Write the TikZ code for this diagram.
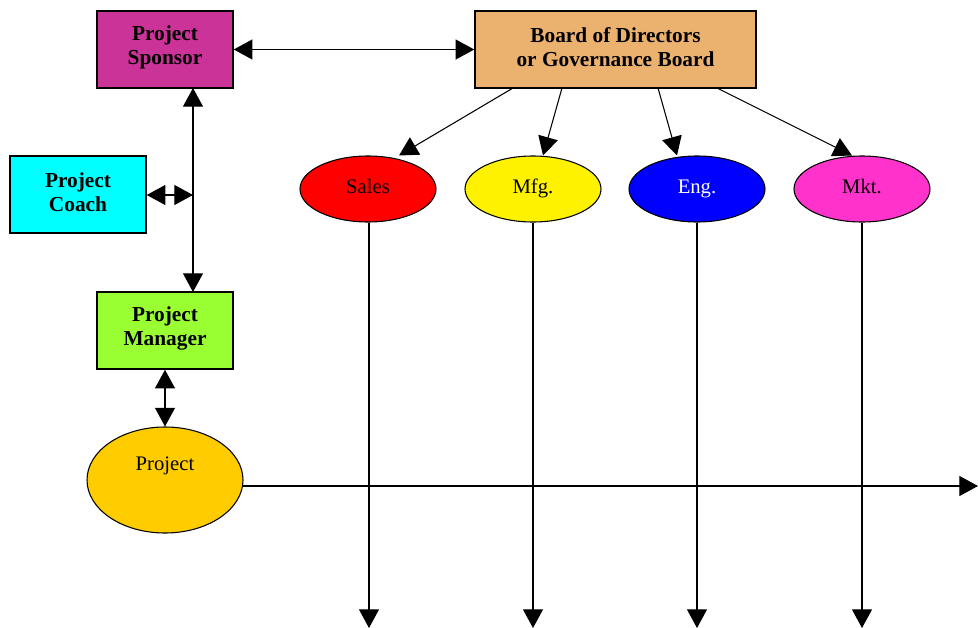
\documentclass[tikz,border=0pt]{standalone}
\usepackage{fontspec}
\setmainfont{Liberation Serif}
\usetikzlibrary{arrows.meta,shapes.geometric}
\definecolor{sponsorc}{HTML}{CC3399}
\definecolor{boardc}{HTML}{EBB16F}
\definecolor{coachc}{HTML}{00FFFF}
\definecolor{managerc}{HTML}{99FF33}
\definecolor{projc}{HTML}{FFCC00}
\definecolor{mktc}{HTML}{FF33CC}
\begin{document}
\begin{tikzpicture}[x=0.75pt,y=-0.75pt,
  box/.style={draw=black,line width=1.1pt,minimum width=102pt,minimum height=57.75pt,inner sep=0pt,font=\fontsize{16}{18}\selectfont\bfseries,align=center},
  boxtext/.style={font=\fontsize{16}{18}\selectfont\bfseries,align=center},
  dept/.style={ellipse,draw=black,line width=0.8pt,minimum width=102pt,minimum height=49.5pt,inner sep=0pt},
  lbl/.style={font=\fontsize{15.5}{18}\selectfont,anchor=base,inner sep=0pt},
  arr/.style={line width=0.8pt,-{Triangle[length=14pt,width=15pt]}},
  darr/.style={line width=0.8pt,{Triangle[length=14pt,width=15pt]}-{Triangle[length=14pt,width=15pt]}}]
\useasboundingbox (0,0) rectangle (978,628);
% boxes
\node[box,fill=sponsorc] (sponsor) at (165,49.5) {};
\node[boxtext] (sponsort) at (165,47.5) {Project\\Sponsor};
\node[box,fill=boardc,minimum width=210.75pt] (board) at (615.5,49.5) {};
\node[boxtext] (boardt) at (615.5,47) {Board of Directors\\or Governance Board};
\node[box,fill=coachc] (coach) at (78,194.5) {};
\node[boxtext] (coacht) at (78,192.5) {Project\\Coach};
\node[box,fill=managerc] (manager) at (165,330.5) {};
\node[boxtext] (managert) at (165,328.5) {Project\\Manager};
% ellipses
\node[dept,fill=red] (sales) at (368,189) {};
\node[lbl] (salest) at (368,193) {Sales};
\node[dept,fill=yellow] (mfg) at (533,189) {};
\node[lbl] (mfgt) at (533,193) {Mfg.};
\node[dept,fill=blue] (eng) at (697,189) {};
\node[lbl,text=white] (engt) at (697,193) {Eng.};
\node[dept,fill=mktc] (mkt) at (862,189) {};
\node[lbl] (mktt) at (862,193) {Mkt.};
\node[ellipse,draw=black,line width=0.8pt,fill=projc,minimum width=117pt,minimum height=79.5pt,inner sep=0pt] (proj) at (165,480) {};
\node[lbl] (projt) at (165,470) {Project};
% coordinates
\coordinate (vtop) at (193,88);
\coordinate (vbot) at (193,292);
\coordinate (vmid) at (193,195);
\coordinate (b1) at (513,88);
\coordinate (b2) at (562,88);
\coordinate (b3) at (658,88);
\coordinate (b4) at (717,88);
\coordinate (t1) at (399,155.5);
\coordinate (t2) at (543,155.5);
\coordinate (t3) at (677,155.5);
\coordinate (t4) at (852,155.5);
\coordinate (d1) at (369,628);
\coordinate (d2) at (533,628);
\coordinate (d3) at (697,628);
\coordinate (d4) at (862,628);
\coordinate (pend) at (978,486);
\coordinate (pstart) at (243,486);
% connectors
\draw[darr] (sponsor.east) -- (board.west);
\draw[darr] (vtop) -- (vbot);
\draw[darr] (coach.east |- vmid) -- (vmid);
\draw[darr] (manager.south) -- (proj.north);
\draw[arr] (b1) -- (t1);
\draw[arr] (b2) -- (t2);
\draw[arr] (b3) -- (t3);
\draw[arr] (b4) -- (t4);
\draw[arr] (sales.south -| d1) -- (d1);
\draw[arr] (mfg.south) -- (d2);
\draw[arr] (eng.south) -- (d3);
\draw[arr] (mkt.south) -- (d4);
\draw[arr] (pstart) -- (pend);
\end{tikzpicture}
\end{document}
